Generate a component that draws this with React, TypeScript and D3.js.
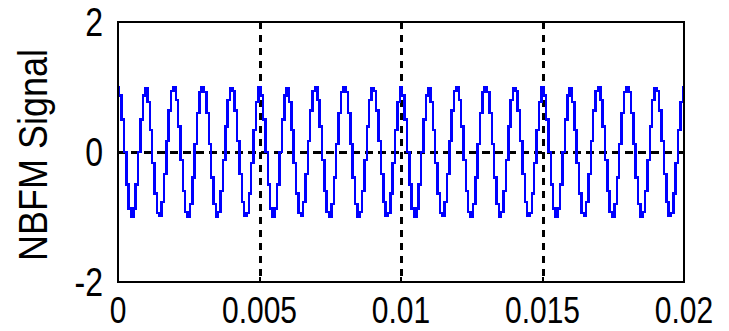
import React, { useRef, useEffect } from 'react';
import * as d3 from 'd3';

// NBFM signal samples (12 samples per carrier cycle, 20 cycles)
const signalRows: number[][] = [
    [1.00, 0.87, 0.50, 0.00, -0.50, -0.87, -1.00, -0.87, -0.50, 0.00, 0.50, 0.87],
    [0.98, 0.77, 0.34, -0.17, -0.64, -0.94, -0.98, -0.77, -0.34, 0.17, 0.64, 0.94],
    [0.99, 0.80, 0.39, -0.12, -0.60, -0.92, -0.99, -0.80, -0.39, 0.12, 0.60, 0.92],
    [0.99, 0.92, 0.60, 0.12, -0.39, -0.80, -0.99, -0.92, -0.60, -0.12, 0.39, 0.80],
    [0.98, 0.94, 0.64, 0.17, -0.34, -0.77, -0.98, -0.94, -0.64, -0.17, 0.34, 0.77],
    [1.00, 0.87, 0.50, 0.00, -0.50, -0.87, -1.00, -0.87, -0.50, 0.00, 0.50, 0.87],
    [0.98, 0.77, 0.34, -0.17, -0.64, -0.94, -0.98, -0.77, -0.34, 0.17, 0.64, 0.94],
    [0.99, 0.80, 0.39, -0.12, -0.60, -0.92, -0.99, -0.80, -0.39, 0.12, 0.60, 0.92],
    [0.99, 0.92, 0.60, 0.12, -0.39, -0.80, -0.99, -0.92, -0.60, -0.12, 0.39, 0.80],
    [0.98, 0.94, 0.64, 0.17, -0.34, -0.77, -0.98, -0.94, -0.64, -0.17, 0.34, 0.77],
    [1.00, 0.87, 0.50, 0.00, -0.50, -0.87, -1.00, -0.87, -0.50, 0.00, 0.50, 0.87],
    [0.98, 0.77, 0.34, -0.17, -0.64, -0.94, -0.98, -0.77, -0.34, 0.17, 0.64, 0.94],
    [0.99, 0.80, 0.39, -0.12, -0.60, -0.92, -0.99, -0.80, -0.39, 0.12, 0.60, 0.92],
    [0.99, 0.92, 0.60, 0.12, -0.39, -0.80, -0.99, -0.92, -0.60, -0.12, 0.39, 0.80],
    [0.98, 0.94, 0.64, 0.17, -0.34, -0.77, -0.98, -0.94, -0.64, -0.17, 0.34, 0.77],
    [1.00, 0.87, 0.50, 0.00, -0.50, -0.87, -1.00, -0.87, -0.50, 0.00, 0.50, 0.87],
    [0.98, 0.77, 0.34, -0.17, -0.64, -0.94, -0.98, -0.77, -0.34, 0.17, 0.64, 0.94],
    [0.99, 0.80, 0.39, -0.12, -0.60, -0.92, -0.99, -0.80, -0.39, 0.12, 0.60, 0.92],
    [0.99, 0.92, 0.60, 0.12, -0.39, -0.80, -0.99, -0.92, -0.60, -0.12, 0.39, 0.80],
    [0.98, 0.94, 0.64, 0.17, -0.34, -0.77, -0.98, -0.94, -0.64, -0.17, 0.34, 0.77],
    [1.00],
];
const sampleStep = 0.02 / 240;

const xTicks = [0, 0.005, 0.01, 0.015, 0.02];
const xTickLabels = ['0', '0.005', '0.01', '0.015', '0.02'];
const yTicks = [-2, 0, 2];
const yTickLabels = ['-2', '0', '2'];
const gridX = [0.005, 0.01, 0.015];
const gridY = [0];
const yLabel = 'NBFM Signal';

const W = 729;
const H = 331;
const FONT = '"Liberation Sans", Arial, sans-serif';

const App = () => {
    const svgRef = useRef<SVGSVGElement>(null);

    useEffect(() => {
        const svg = d3.select(svgRef.current);
        svg.selectAll('*').remove();

        const margin = { top: 22, right: 45, bottom: 49, left: 118 };
        const x = d3.scaleLinear().domain([0, 0.02]).range([margin.left, W - margin.right]);
        const y = d3.scaleLinear().domain([-2, 2]).range([H - margin.bottom, margin.top]);

        const samples = signalRows.flat();
        const data = samples.map((v, i) => ({ t: i * sampleStep, v }));

        // dashed grid
        svg.append('g')
            .selectAll('line')
            .data(gridX)
            .enter()
            .append('line')
            .attr('x1', d => Math.round(x(d)))
            .attr('x2', d => Math.round(x(d)))
            .attr('y1', y(2))
            .attr('y2', y(-2))
            .attr('stroke', '#000')
            .attr('stroke-width', 3)
            .attr('stroke-dasharray', '7,6')
            .attr('shape-rendering', 'crispEdges');

        svg.append('g')
            .selectAll('line')
            .data(gridY)
            .enter()
            .append('line')
            .attr('x1', x(0))
            .attr('x2', x(0.02))
            .attr('y1', d => y(d))
            .attr('y2', d => y(d))
            .attr('stroke', '#000')
            .attr('stroke-width', 3)
            .attr('stroke-dasharray', '8,5')
            .attr('shape-rendering', 'crispEdges');

        // signal, drawn as the stepped trace seen on the plot
        const line = d3.line<{ t: number; v: number }>()
            .x(d => x(d.t))
            .y(d => y(d.v))
            .curve(d3.curveStep);

        svg.append('path')
            .datum(data)
            .attr('fill', 'none')
            .attr('stroke', '#0000ff')
            .attr('stroke-width', 2.5)
            .attr('shape-rendering', 'crispEdges')
            .attr('d', line);

        // axes box
        svg.append('rect')
            .attr('x', x(0))
            .attr('y', y(2))
            .attr('width', x(0.02) - x(0))
            .attr('height', y(-2) - y(2))
            .attr('fill', 'none')
            .attr('stroke', '#000')
            .attr('stroke-width', 2)
            .attr('shape-rendering', 'crispEdges');

        // inner ticks
        const tickLen = 5;
        const ticks = svg.append('g')
            .attr('stroke', '#000')
            .attr('stroke-width', 2)
            .attr('shape-rendering', 'crispEdges');
        xTicks.forEach(t => {
            ticks.append('line').attr('x1', x(t)).attr('x2', x(t)).attr('y1', y(-2)).attr('y2', y(-2) - tickLen);
            ticks.append('line').attr('x1', x(t)).attr('x2', x(t)).attr('y1', y(2)).attr('y2', y(2) + tickLen);
        });
        yTicks.forEach(t => {
            ticks.append('line').attr('x1', x(0)).attr('x2', x(0) + tickLen).attr('y1', y(t)).attr('y2', y(t));
            ticks.append('line').attr('x1', x(0.02)).attr('x2', x(0.02) - tickLen).attr('y1', y(t)).attr('y2', y(t));
        });

        // tick labels
        svg.append('g')
            .selectAll('text')
            .data(xTicks)
            .enter()
            .append('text')
            .attr('transform', d => `translate(${x(d)},323) scale(1,1.2)`)
            .attr('text-anchor', 'middle')
            .attr('font-family', FONT)
            .attr('font-size', 30)
            .attr('fill', '#000')
            .text((d, i) => xTickLabels[i]);

        svg.append('g')
            .selectAll('text')
            .data(yTicks)
            .enter()
            .append('text')
            .attr('transform', d => `translate(103,${y(d) + 14}) scale(1,1.25)`)
            .attr('text-anchor', 'end')
            .attr('font-family', FONT)
            .attr('font-size', 32)
            .attr('fill', '#000')
            .text((d, i) => yTickLabels[i]);

        // y axis label
        svg.append('text')
            .attr('transform', 'translate(47,155) rotate(-90) scale(1,1.15)')
            .attr('text-anchor', 'middle')
            .attr('font-family', FONT)
            .attr('font-size', 36)
            .attr('fill', '#000')
            .text(yLabel);
    }, []);

    return (
        <svg
            ref={svgRef}
            width={W}
            height={H}
            style={{ position: 'absolute', left: 0, top: 0, background: '#fff' }}
        />
    );
};

export default App;
